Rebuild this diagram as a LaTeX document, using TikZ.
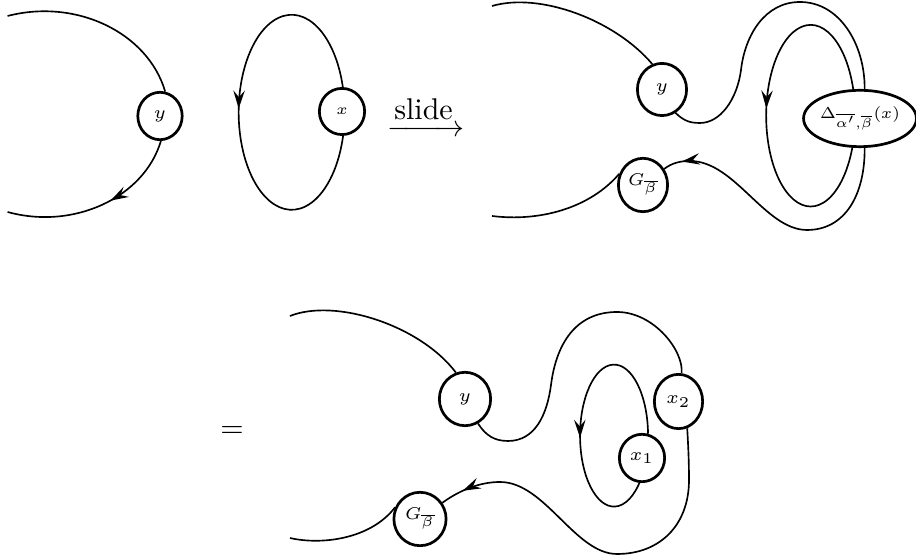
\documentclass[tikz,border=0pt]{standalone}
\usepackage{amsmath}
\usetikzlibrary{shapes.geometric,arrows.meta,decorations.markings,backgrounds}
\newcommand{\labelsize}{\fontsize{6.2}{7}\selectfont}
\newcommand{\biglabelsize}{\fontsize{6}{7}\selectfont}
\tikzset{
  strand/.style={line width=0.55pt},
  bead/.style={ellipse, draw, line width=0.9pt, fill=white, inner sep=0pt, font=\labelsize},
  midarrow/.style={postaction=decorate, decoration={markings,
      mark=at position #1 with {\arrow{Stealth[length=6pt,width=3.8pt,inset=2.2pt]}}}},
}
\begin{document}
\begin{tikzpicture}[x=0.33333pt, y=-0.33333pt]
\useasboundingbox (0,0) rectangle (916,559);

% ---------- panel 1 ----------
\node[bead, minimum width=14.8pt, minimum height=15.8pt] (y1) at (160,116) {$y$};
\node[bead, minimum width=15.1pt, minimum height=15.4pt, font=\tiny] (xa) at (342,111.5) {$x$};
\node (slide) at (426,116) {$\xrightarrow{\textstyle\text{slide}}$};

% ---------- panel 2 ----------
\node[bead, minimum width=16.4pt, minimum height=17.4pt] (y2) at (662,89.5) {$y$};
\node[bead, minimum width=16.4pt, minimum height=17.8pt] (G2) at (643,185) {\scalebox{0.95}{$G_{\overline{\beta}}$}};
\node[bead, minimum height=18.8pt, font=\biglabelsize] (D2) at (860,118.5) {\scalebox{0.88}{$\Delta_{\overline{\alpha'},\overline{\beta}}(x)$}};

% ---------- panel 3 ----------
\node (eq) at (232,432) {$=$};
\node[bead, minimum width=17.1pt, minimum height=17.8pt] (y3) at (465,399) {$y$};
\node[bead, minimum width=17.4pt, minimum height=17.8pt] (G3) at (420,519) {\scalebox{0.95}{$G_{\overline{\beta}}$}};
\node[bead, minimum width=16.1pt, minimum height=18.1pt] (x2) at (678.5,401.5) {$x_2$};
\node[bead, minimum width=15.1pt, minimum height=15.8pt] (x1) at (642,458) {$x_1$};

\begin{scope}[on background layer]
  % panel 1
  \coordinate (a1) at (7.6,16);
  \coordinate (a2) at (7.6,212);
  \draw[strand] (a1) .. controls (76,-1.8) and (147.8,32.4) .. (y1.78);
  \draw[strand, midarrow=0.43] (y1.-88) .. controls (144,197.7) and (73.5,230.2) .. (a2);
  \draw[strand, midarrow=0.484] (xa.88) arc[start angle=-15, end angle=-349, x radius=53, y radius=97.5];

  % panel 2
  \coordinate (b1) at (492,6);
  \coordinate (b2) at (700,123);
  \coordinate (b3) at (741,70);
  \coordinate (b4) at (800,2);
  \coordinate (b5) at (807,230);
  \coordinate (b6) at (690,161);
  \coordinate (b7) at (492,216);
  \draw[strand] (b1) .. controls (540,-8) and (615,20) .. (y2.111);
  \draw[strand] (y2.-60) .. controls (684,121) and (690,123) .. (b2)
      .. controls (720,123) and (737,100) .. (b3)
      .. controls (745,35) and (765,2) .. (b4)
      .. controls (840,2) and (865,45) .. (D2.81);
  \draw[strand] (D2.-81) .. controls (865,195) and (845,230) .. (b5)
      .. controls (765,230) and (735,161) .. (b6);
  \draw[strand, midarrow=0.3] (b6) .. controls (680,161) and (672,163) .. (G2);
  \draw[strand, midarrow=0.485] (D2.103) arc[start angle=-17, end angle=-341, x radius=44.5, y radius=90.8];
  \draw[strand] (G2.155) .. controls (590,208) and (540,222) .. (b7);

  % panel 3
  \coordinate (c1) at (290,316);
  \coordinate (c2) at (508,441);
  \coordinate (c3) at (551,385);
  \coordinate (c4) at (617,312);
  \coordinate (c5) at (689,480);
  \coordinate (c6) at (617,554);
  \coordinate (c7) at (500,482);
  \coordinate (c8) at (290,538);
  \draw[strand] (c1) .. controls (335,298) and (420,325) .. (y3.109);
  \draw[strand] (y3.-62) .. controls (486,436) and (495,441) .. (c2)
      .. controls (535,441) and (547,415) .. (c3)
      .. controls (556,345) and (575,312) .. (c4)
      .. controls (654,312) and (684,351) .. (x2);
  \draw[strand] (x2.-72) .. controls (688.5,450) and (689,465) .. (c5)
      .. controls (689,525) and (660,554) .. (c6)
      .. controls (575,554) and (545,482) .. (c7);
  \draw[strand, midarrow=0.62] (c7) .. controls (480,482) and (460,490) .. (G3);
  \draw[strand] (G3.155) .. controls (370,540) and (320,545) .. (c8);
  \draw[strand, midarrow=0.58] (x1.76) arc[start angle=-1.5, end angle=-322, x radius=34, y radius=71];
\end{scope}
\end{tikzpicture}
\end{document}
